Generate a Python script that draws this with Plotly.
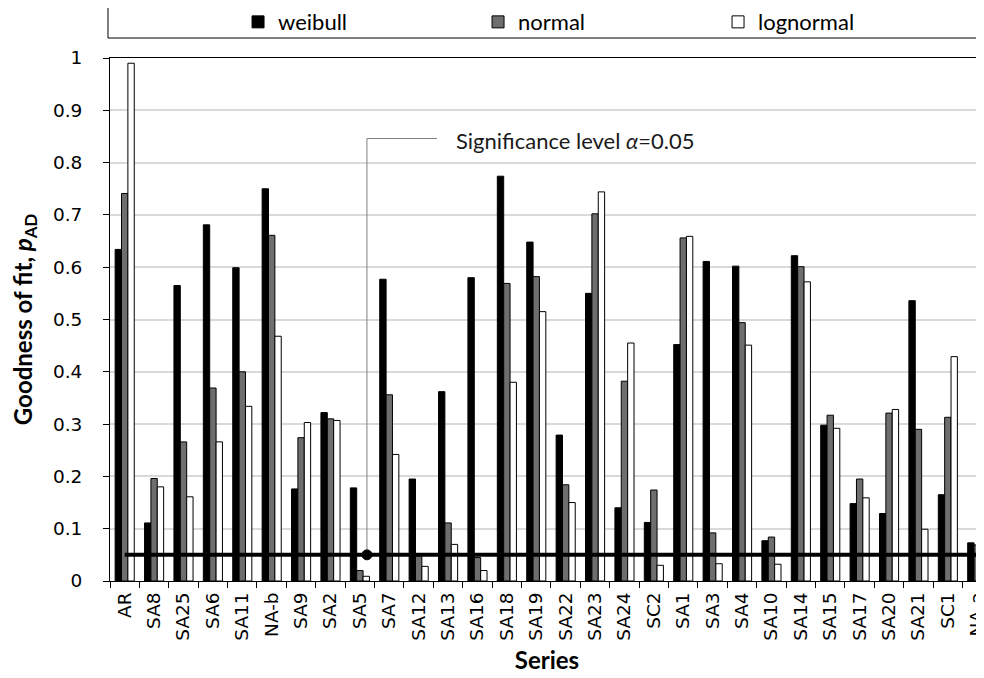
import plotly.graph_objects as go

categories = ["AR", "SA8", "SA25", "SA6", "SA11", "NA-b", "SA9", "SA2", "SA5", "SA7",
              "SA12", "SA13", "SA16", "SA18", "SA19", "SA22", "SA23", "SA24", "SC2", "SA1",
              "SA3", "SA4", "SA10", "SA14", "SA15", "SA17", "SA20", "SA21", "SC1", "NA-a"]
weibull = [0.634, 0.111, 0.565, 0.681, 0.599, 0.750, 0.176, 0.322, 0.178, 0.577,
           0.195, 0.362, 0.580, 0.774, 0.648, 0.279, 0.550, 0.140, 0.112, 0.452,
           0.611, 0.602, 0.077, 0.622, 0.298, 0.148, 0.129, 0.536, 0.165, 0.073]
normal = [0.741, 0.196, 0.266, 0.369, 0.400, 0.661, 0.274, 0.310, 0.020, 0.356,
          0.048, 0.111, 0.045, 0.569, 0.582, 0.184, 0.702, 0.382, 0.174, 0.656,
          0.092, 0.494, 0.084, 0.601, 0.317, 0.195, 0.321, 0.290, 0.313, 0.069]
lognormal = [0.990, 0.180, 0.161, 0.266, 0.334, 0.468, 0.303, 0.307, 0.009, 0.242,
             0.028, 0.070, 0.020, 0.380, 0.515, 0.150, 0.744, 0.455, 0.030, 0.659,
             0.033, 0.451, 0.032, 0.572, 0.292, 0.159, 0.328, 0.099, 0.429, 0.281]
alpha = 0.05
series_names = ["weibull", "normal", "lognormal"]
series_colors = ["#000000", "#6e6e6e", "#ffffff"]

fig = go.Figure()
for name, vals, col in zip(series_names, [weibull, normal, lognormal], series_colors):
    fig.add_trace(go.Bar(x=categories, y=vals, name=name,
                         marker=dict(color=col, line=dict(color="#000000", width=1))))

fig.add_trace(go.Scatter(x=categories, y=[alpha] * len(categories), mode="lines",
                         line=dict(color="#000000", width=4), showlegend=False,
                         hoverinfo="skip"))

# leader line for the significance-level label
lead_x = 8.24
fig.add_shape(type="path", xref="x", yref="y",
              path=f"M {lead_x},{alpha} L {lead_x},0.846 L 10.62,0.846",
              line=dict(color="#7f7f7f", width=1))
fig.add_shape(type="circle", xref="x", yref="y",
              x0=lead_x - 0.17, x1=lead_x + 0.17, y0=alpha - 0.0095, y1=alpha + 0.0095,
              fillcolor="#000000", line=dict(color="#000000", width=1))
fig.add_annotation(x=11.2, y=0.843, xref="x", yref="y", showarrow=False,
                   xanchor="left", yanchor="middle",
                   text="Significance level <i>α</i>=0.05",
                   font=dict(family="Lato", size=22, color="#1a1a1a"))

# legend frame
fig.add_shape(type="rect", xref="paper", yref="paper",
              x0=-0.0023, x1=1.05, y0=1.0382, y1=1.0975,
              line=dict(color="#000000", width=1), fillcolor="rgba(0,0,0,0)")

fig.update_layout(
    width=976, height=670,
    margin=dict(l=102, r=0, t=50, b=97),
    paper_bgcolor="white", plot_bgcolor="white",
    barmode="group", bargap=0.35, bargroupgap=0,
    font=dict(family="DejaVu Sans", size=18.5, color="#000000"),
    legend=dict(orientation="h", xref="container", yref="container",
                x=0.2357, y=0.979, xanchor="left", yanchor="middle",
                entrywidth=195, entrywidthmode="pixels",
                bgcolor="rgba(0,0,0,0)", font=dict(family="Lato", size=22),
                itemclick=False),
    xaxis=dict(type="category", range=[-0.5, 29.23], showline=True, linecolor="#000000",
               linewidth=1, mirror=True, ticks="outside", ticklen=6, tickcolor="#000000",
               tickson="boundaries", tickangle=-90, showgrid=False, ticklabelstandoff=3,
               automargin=False,
               tickfont=dict(family="DejaVu Sans", size=18.5),
               title=dict(text="<b>Series</b>", font=dict(family="Lato", size=24),
                          standoff=12)),
    yaxis=dict(range=[0, 1], dtick=0.1, showline=True, linecolor="#000000", linewidth=1,
               ticks="outside", ticklen=6, tickcolor="#000000", showgrid=True,
               gridcolor="#d9d9d9", gridwidth=1.5, zeroline=False, ticklabelstandoff=17,
               automargin=False,
               tickfont=dict(family="DejaVu Sans", size=18.5),
               title=dict(text="<b>Goodness of fit, <i>p</i><sub>AD</sub></b>",
                          font=dict(family="Lato", size=24), standoff=20)),
)

fig.write_html("out.html")
